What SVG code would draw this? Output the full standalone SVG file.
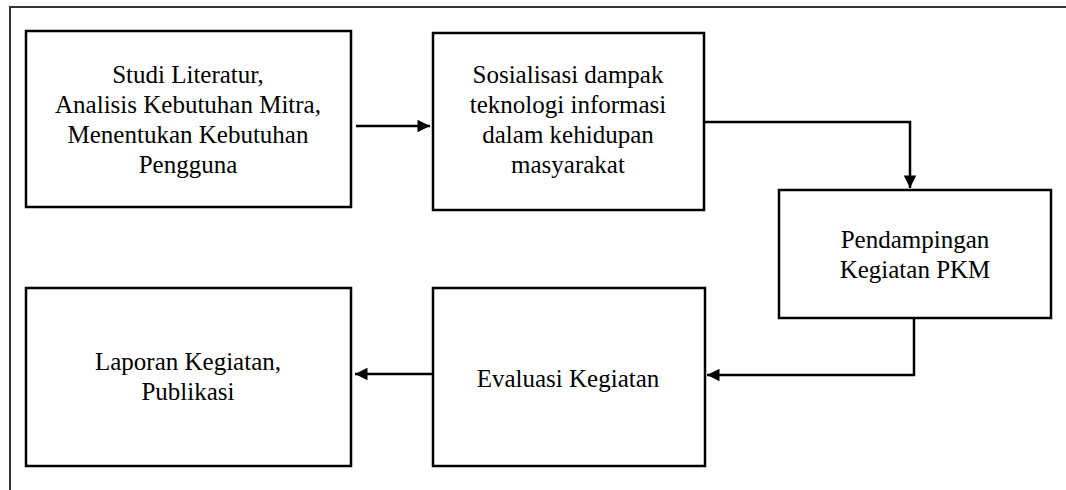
<svg xmlns="http://www.w3.org/2000/svg" width="1066" height="490" viewBox="0 0 1066 490">
<defs>
<style>
.box{fill:#fff;stroke:#000;stroke-width:2.5}
.frame{fill:none;stroke:#333;stroke-width:2}
.c{fill:none;stroke:#000;stroke-width:2.5}
</style>
<marker id="ah" viewBox="0 0 10 10" refX="10" refY="5" markerWidth="5.5" markerHeight="5" markerUnits="strokeWidth" orient="auto">
<path d="M0,0 L10,5 L0,10 z" fill="#000"/>
</marker>
</defs>
<path class="frame" d="M10,490 V7 H1066"/>
<g font-family="Liberation Serif, Tinos, Times New Roman, Times, DejaVu Serif, Noto Serif, serif" font-size="25" fill="#000" text-anchor="middle">
<g id="n1"><rect class="box" x="26" y="31" width="325" height="176"/>
<text x="188" y="83">Studi Literatur,</text>
<text x="188" y="113">Analisis Kebutuhan Mitra,</text>
<text x="188" y="143">Menentukan Kebutuhan</text>
<text x="188" y="173">Pengguna</text></g>
<g id="n2"><rect class="box" x="433" y="33" width="271" height="177"/>
<text x="568" y="83">Sosialisasi dampak</text>
<text x="568" y="113">teknologi informasi</text>
<text x="568" y="143">dalam kehidupan</text>
<text x="568" y="173">masyarakat</text></g>
<g id="n3"><rect class="box" x="779" y="190" width="272" height="128"/>
<text x="915" y="248">Pendampingan</text>
<text x="915" y="278">Kegiatan PKM</text></g>
<g id="n4"><rect class="box" x="433" y="288" width="272" height="178"/>
<text x="568" y="387">Evaluasi Kegiatan</text></g>
<g id="n5"><rect class="box" x="26" y="288" width="325" height="178"/>
<text x="188" y="370">Laporan Kegiatan,</text>
<text x="188" y="400">Publikasi</text></g>
</g>
<g id="connectors">
<path class="c" d="M356,126 H430" marker-end="url(#ah)"/>
<path class="c" d="M704,122 H910 V188" marker-end="url(#ah)"/>
<path class="c" d="M914,318 V375 H707" marker-end="url(#ah)"/>
<path class="c" d="M433,374 H355" marker-end="url(#ah)"/>
</g>
</svg>
